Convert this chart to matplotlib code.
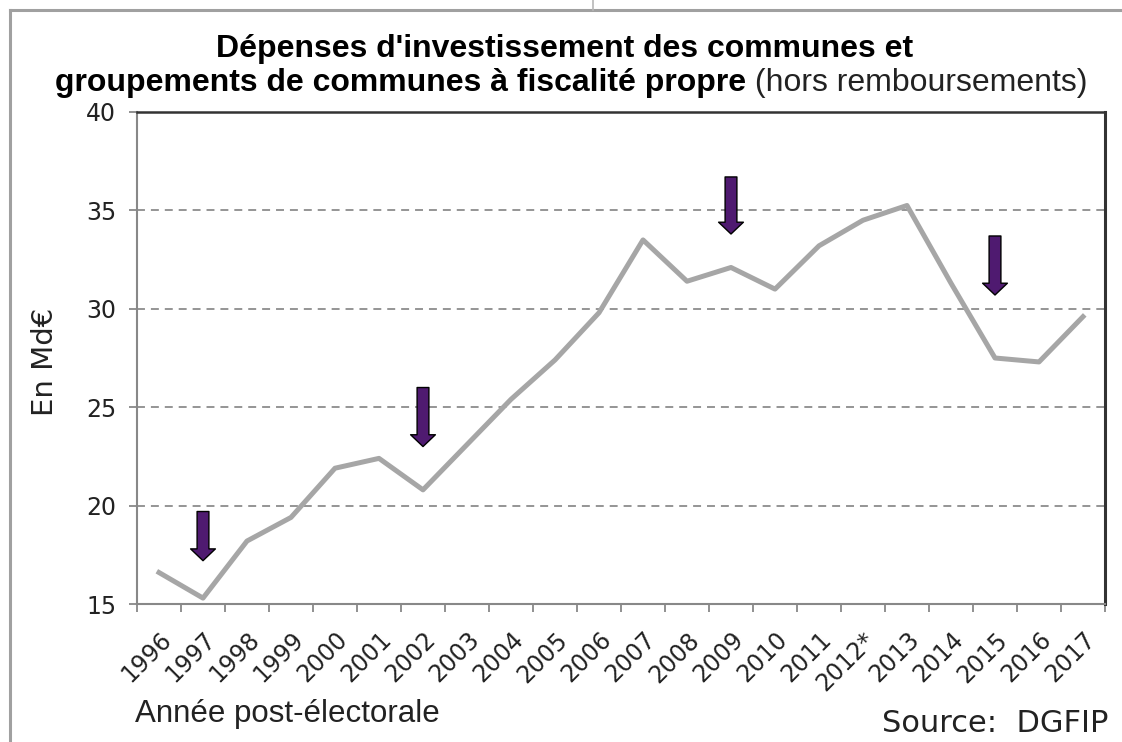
import numpy as np
import matplotlib
matplotlib.use("Agg")
import matplotlib.pyplot as plt
from matplotlib.lines import Line2D

years = ["1996", "1997", "1998", "1999", "2000", "2001", "2002", "2003", "2004",
         "2005", "2006", "2007", "2008", "2009", "2010", "2011", "2012*", "2013",
         "2014", "2015", "2016", "2017"]
depenses = [16.6, 15.3, 18.2, 19.4, 21.9, 22.4, 20.8, 23.1, 25.4, 27.4, 29.8,
            33.5, 31.4, 32.1, 31.0, 33.2, 34.5, 35.25, 31.3, 27.5, 27.3, 29.6]

# post-electoral years marked by an arrow
arrow_years = ["1997", "2002", "2009", "2015"]
arrow_top = [19.7, 26.0, 36.7, 33.7]
arrow_tip = [17.2, 23.0, 33.8, 30.7]

W, H = 1122, 742
fig = plt.figure(figsize=(W / 100, H / 100), dpi=100)


def fx(px):
    return px / W


def fy(py):
    return 1 - py / H


ax = fig.add_axes([fx(137), fy(604), 968 / W, 492 / H])
x = np.arange(len(years))

for v in [20, 25, 30, 35]:
    ax.axhline(v, color="#8c8c8c", lw=1.3, ls=(0, (4.4, 3.3)), zorder=1)

ax.plot(x, depenses, color="#a6a6a6", lw=3.6, zorder=3)

for yr, top, tip in zip(arrow_years, arrow_top, arrow_tip):
    xi = years.index(yr)
    ax.annotate("", xy=(xi, tip), xytext=(xi, top),
                arrowprops=dict(arrowstyle="simple,head_length=0.5,head_width=1.05,tail_width=0.5",
                                mutation_scale=17, fc="#4f1a70", ec="black", lw=1,
                                shrinkA=0, shrinkB=0), zorder=4)

ax.set_xlim(-0.5, len(years) - 0.5)
ax.set_ylim(15, 40)
ax.set_yticks([15, 20, 25, 30, 35, 40])
ax.set_xticks(x)
ax.set_xticklabels(years, rotation=45, ha="right", va="top", rotation_mode="anchor",
                   fontsize=17, family="DejaVu Sans", color="#222222")
ax.set_xticks(np.arange(-0.5, len(years), 1), minor=True)
ax.tick_params(axis="x", which="major", length=0, pad=17)
ax.tick_params(axis="x", which="minor", length=6, width=1.3, color="#888888", direction="out")
ax.tick_params(axis="y", length=6, width=1.3, color="#888888", pad=9,
               labelsize=17, labelcolor="#222222")

for s in ["left", "bottom"]:
    ax.spines[s].set_color("#888888")
    ax.spines[s].set_linewidth(1.5)
ax.spines["top"].set_color("#333333")
ax.spines["top"].set_linewidth(1.8)
ax.spines["right"].set_color("#333333")
ax.spines["right"].set_linewidth(2.2)

fig.text(fx(45), fy(362), "En Md€", rotation=90, ha="center", va="center",
         fontsize=21, family="DejaVu Sans", color="#222222")

# title, second line mixes bold and regular
fig.text(fx(565), fy(57), "Dépenses d'investissement des communes et", ha="center",
         va="baseline", fontsize=23, fontweight="bold", family="Liberation Sans")
t_bold = fig.text(0, fy(91), "groupements de communes à fiscalité propre", ha="left",
                  va="baseline", fontsize=23, fontweight="bold", family="Liberation Sans")
t_reg = fig.text(0, fy(91), " (hors remboursements)", ha="left", va="baseline",
                 fontsize=23, family="Liberation Sans", color="#222222")
r = fig.canvas.get_renderer()
wb = t_bold.get_window_extent(r).width
wr = t_reg.get_window_extent(r).width
x0 = 571 - (wb + wr) / 2
t_bold.set_x(fx(x0))
t_reg.set_x(fx(x0 + wb))

fig.text(fx(135), fy(722), "Année post-électorale", ha="left", va="baseline",
         fontsize=22.5, family="Liberation Sans", color="#222222")
fig.text(fx(1108), fy(732), "Source:  DGFIP", ha="right", va="baseline",
         fontsize=22, family="DejaVu Sans", color="#222222")

# frame around the chart
fig.add_artist(Line2D([fx(10), 1], [fy(10), fy(10)], color="#a0a0a0", lw=2.2))
fig.add_artist(Line2D([fx(10), fx(10)], [fy(10), 0], color="#a0a0a0", lw=2.2))
fig.add_artist(Line2D([fx(593), fx(593)], [1, fy(10)], color="#b8b8b8", lw=1.2))

fig.savefig("out.png", dpi=100)
